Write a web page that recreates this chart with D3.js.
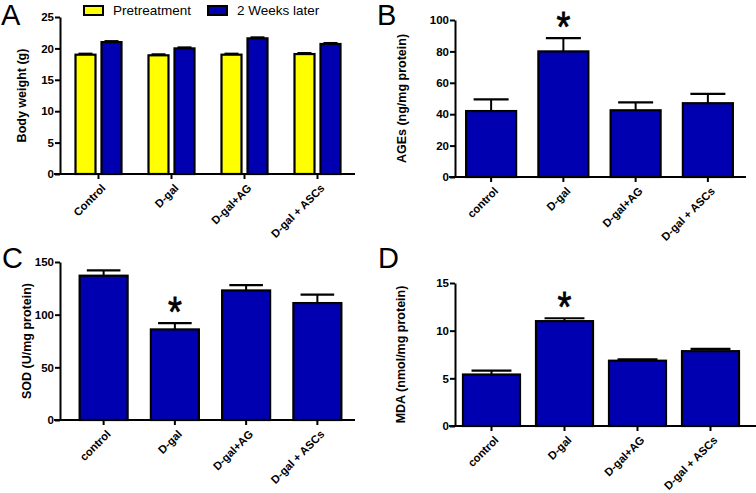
<!DOCTYPE html>
<html>
<head>
<meta charset="utf-8">
<script src="https://cdn.jsdelivr.net/npm/d3@7"></script>
<style>
  body { margin: 0; background: #fff; }
  svg { font-family: Arial, 'Liberation Sans', sans-serif; }
</style>
</head>
<body>
<svg id="chart" width="756" height="493"></svg>
<script>
// panel A - body weight
const groupsA = ['Control', 'D-gal', 'D-gal+AG', 'D-gal + ASCs'];
const seriesA = ['Pretreatment', '2 Weeks later'];
const preA = [19.0, 18.9, 19.0, 19.1];
const preErrA = [0.15, 0.15, 0.15, 0.15];
const postA = [21.0, 20.0, 21.6, 20.7];
const postErrA = [0.15, 0.15, 0.15, 0.15];
const ticksA = [0, 5, 10, 15, 20, 25];

// panels B, C, D share the lower-case groups
const groups = ['control', 'D-gal', 'D-gal+AG', 'D-gal + ASCs'];

const agesB = [42, 80, 42.5, 47];
const agesErrB = [7.5, 8.5, 5, 6];
const ticksB = [0, 20, 40, 60, 80, 100];

const sodC = [137, 86, 123, 111];
const sodErrC = [5, 6, 5, 8];
const ticksC = [0, 50, 100, 150];

const mdaD = [5.4, 11.0, 6.85, 7.85];
const mdaErrD = [0.4, 0.3, 0.15, 0.25];
const ticksD = [0, 5, 10, 15];

const sig = [false, true, false, false];

const yellow = '#ffff00';
const blue = '#0000b0';

const svg = d3.select('#chart');

function drawAxes(g, p, x, y, ticks) {
  // y axis
  g.append('g')
    .attr('transform', `translate(${p.x0},0)`)
    .call(d3.axisLeft(y).tickValues(ticks).tickSize(5).tickSizeOuter(0))
    .call(a => a.select('.domain').attr('stroke-width', 2))
    .call(a => a.selectAll('.tick line').attr('stroke-width', 2))
    .call(a => a.selectAll('.tick text')
      .style('font-size', '11.5px').style('font-weight', 'bold').attr('x', -6));

  // x axis
  const xa = g.append('g')
    .attr('transform', `translate(0,${y(0)})`)
    .call(d3.axisBottom(x).tickSize(5).tickSizeOuter(0));
  xa.select('.domain').remove();
  xa.append('line')
    .attr('x1', p.x0 - 6).attr('x2', p.x1)
    .attr('stroke', '#000').attr('stroke-width', 2);
  xa.selectAll('.tick line').attr('stroke-width', 2);
  xa.selectAll('.tick text')
    .style('font-size', '11.2px').style('font-weight', 'bold')
    .attr('text-anchor', 'end')
    .attr('dy', '0.35em')
    .attr('transform', 'translate(5,12) rotate(-45)')
    .attr('x', 0).attr('y', 0);

  g.append('text')
    .attr('transform', `translate(${p.labelX},${(y.range()[0] + y.range()[1]) / 2}) rotate(-90)`)
    .attr('text-anchor', 'middle')
    .style('font-size', '12.5px').style('font-weight', 'bold')
    .text(p.label);

  g.append('text')
    .attr('x', p.letterX).attr('y', p.letterY)
    .style('font-size', '29px')
    .text(p.letter);
}

function drawBars(g, data, err, x, y, bw, color, offset) {
  const errs = g.append('g');
  data.forEach((v, i) => {
    const cx = x(groups[i]) + x.bandwidth() / 2 + offset;
    errs.append('line')
      .attr('x1', cx).attr('x2', cx)
      .attr('y1', y(v)).attr('y2', y(v + err[i]))
      .attr('stroke', '#000').attr('stroke-width', 2);
    errs.append('line')
      .attr('x1', cx - bw * 0.35).attr('x2', cx + bw * 0.35)
      .attr('y1', y(v + err[i])).attr('y2', y(v + err[i]))
      .attr('stroke', '#000').attr('stroke-width', 2.2);
  });
  g.selectAll(null)
    .data(data)
    .join('rect')
    .attr('x', (d, i) => x(groups[i]) + x.bandwidth() / 2 + offset - bw / 2)
    .attr('y', d => y(d))
    .attr('width', bw)
    .attr('height', d => y(0) - y(d))
    .attr('fill', color)
    .attr('stroke', '#000')
    .attr('stroke-width', 2.2);
}

function drawStars(g, data, err, x, y) {
  const starData = data.map((d, i) => ({ g: groups[i], top: d + err[i] }))
    .filter((d, i) => sig[i]);
  g.selectAll(null)
    .data(starData)
    .join('text')
    .attr('transform', d => `translate(${x(d.g) + x.bandwidth() / 2},${y(d.top) + 3}) scale(0.85,1)`)
    .attr('text-anchor', 'middle')
    .style('font-size', '42px')
    .attr('stroke', '#000')
    .attr('stroke-width', 0.8)
    .text('*');
}

// ---- panel A
(function () {
  const p = { x0: 60, x1: 355, label: 'Body weight (g)', labelX: 26, letter: 'A', letterX: 1, letterY: 25 };
  const g = svg.append('g');
  const x = d3.scaleBand().domain(groups).range([62, 354]);
  const y = d3.scaleLinear().domain([0, 25]).range([174, 17]);
  drawAxes(g, p, x, y, ticksA);
  g.selectAll('.tick text').filter(function () { return groups.includes(this.textContent); })
    .text((d, i) => groupsA[i]);
  drawBars(g, preA, preErrA, x, y, 20, yellow, -13);
  drawBars(g, postA, postErrA, x, y, 20, blue, 13);

  const leg = g.append('g');
  [yellow, blue].forEach((c, i) => {
    const lx = [84, 208][i];
    leg.append('rect')
      .attr('x', lx).attr('y', 6).attr('width', 19).attr('height', 9)
      .attr('fill', c).attr('stroke', '#000').attr('stroke-width', 2);
    leg.append('text')
      .attr('x', lx + 29).attr('y', 15)
      .style('font-size', '13.5px')
      .text(seriesA[i]);
  });
})();

// ---- panel B
(function () {
  const p = { x0: 455, x1: 746, label: 'AGEs (ng/mg protein)', labelX: 406, letter: 'B', letterX: 377, letterY: 25 };
  const g = svg.append('g');
  const x = d3.scaleBand().domain(groups).range([455, 744]);
  const y = d3.scaleLinear().domain([0, 100]).range([177, 20]);
  drawAxes(g, p, x, y, ticksB);
  drawBars(g, agesB, agesErrB, x, y, 50, blue, 0);
  drawStars(g, agesB, agesErrB, x, y);
})();

// ---- panel C
(function () {
  const p = { x0: 60, x1: 355, label: 'SOD (U/mg protein)', labelX: 31, letter: 'C', letterX: 2, letterY: 268 };
  const g = svg.append('g');
  const x = d3.scaleBand().domain(groups).range([68, 353]);
  const y = d3.scaleLinear().domain([0, 150]).range([420, 262]);
  drawAxes(g, p, x, y, ticksC);
  drawBars(g, sodC, sodErrC, x, y, 48, blue, 0);
  drawStars(g, sodC, sodErrC, x, y);
})();

// ---- panel D
(function () {
  const p = { x0: 455, x1: 756, label: 'MDA (nmol/mg protein)', labelX: 405, letter: 'D', letterX: 378, letterY: 268 };
  const g = svg.append('g');
  const x = d3.scaleBand().domain(groups).range([455, 747]);
  const y = d3.scaleLinear().domain([0, 15]).range([426, 283]);
  drawAxes(g, p, x, y, ticksD);
  drawBars(g, mdaD, mdaErrD, x, y, 57, blue, 0);
  drawStars(g, mdaD, mdaErrD, x, y);
})();
</script>
</body>
</html>
